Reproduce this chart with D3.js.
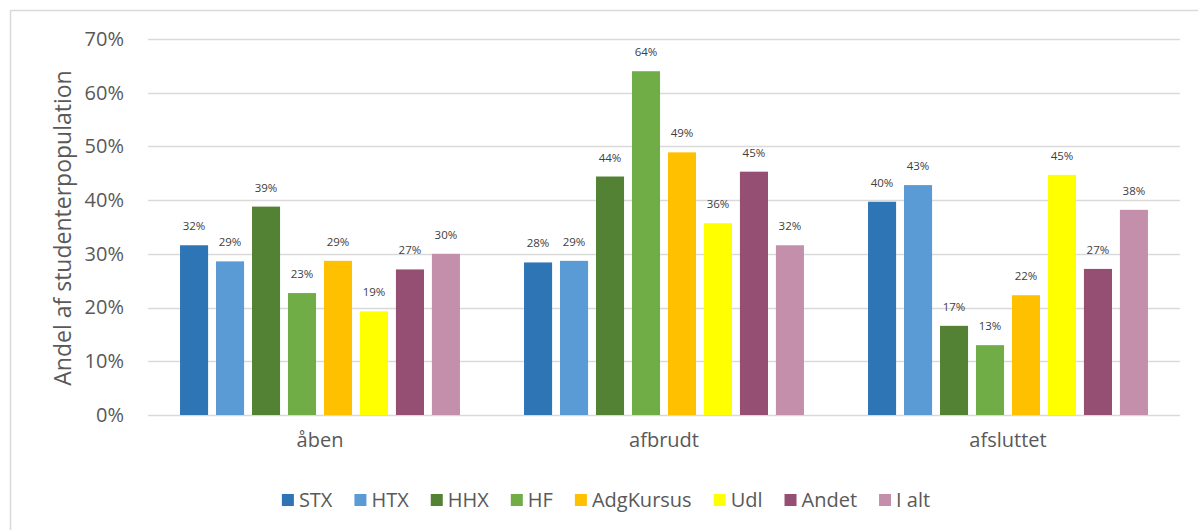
<!DOCTYPE html>
<html>
<head>
<meta charset="utf-8">
<script src="https://cdn.jsdelivr.net/npm/d3@7"></script>
<style>
  body { margin: 0; background: #fff; }
  svg { display: block; font-family: "Open Sans", sans-serif; }
</style>
</head>
<body>
<script>
var swidth = 1198,
    sheight = 530,
    margin = {top: 39, right: 18, bottom: 115, left: 148},
    width = swidth - margin.left - margin.right,
    height = sheight - margin.top - margin.bottom;

// data
var groups = ["åben", "afbrudt", "afsluttet"];
var series = ["STX", "HTX", "HHX", "HF", "AdgKursus", "Udl", "Andet", "I alt"];
var colors = ["#2e75b6", "#5b9bd5", "#548235", "#70ad47", "#ffc000", "#ffff00", "#954f72", "#c48fab"];
var aabenVals    = [0.316, 0.286, 0.388, 0.227, 0.287, 0.193, 0.271, 0.300];
var afbrudtVals  = [0.284, 0.287, 0.444, 0.640, 0.489, 0.357, 0.453, 0.316];
var afsluttetVals = [0.397, 0.428, 0.166, 0.130, 0.223, 0.447, 0.272, 0.382];
var tickVals = [0, 0.1, 0.2, 0.3, 0.4, 0.5, 0.6, 0.7];
var yTitle = "Andel af studenterpopulation";

var values = [aabenVals, afbrudtVals, afsluttetVals];

var svg = d3.select("body").append("svg")
    .attr("width", swidth)
    .attr("height", sheight);

// chart frame (continues past the right/bottom of the picture)
svg.append("rect")
    .attr("x", 10.5).attr("y", 10.5)
    .attr("width", 1400).attr("height", 800)
    .attr("fill", "none")
    .attr("stroke", "#d9d9d9")
    .attr("stroke-width", 1.5);

var g = svg.append("g")
    .attr("transform", "translate(" + margin.left + "," + margin.top + ")");

var x0 = d3.scaleBand()
    .domain(groups)
    .range([0, width]);

var x1 = d3.scaleBand()
    .domain(series)
    .range([0, x0.bandwidth()])
    .paddingInner(0.22)
    .paddingOuter(0.89);

var y = d3.scaleLinear()
    .domain([0, 0.7])
    .range([height, 0]);

var color = d3.scaleOrdinal().domain(series).range(colors);

// gridlines
g.append("g")
  .selectAll("line")
  .data(tickVals)
  .enter().append("line")
    .attr("x1", 0)
    .attr("x2", width)
    .attr("y1", function(d) { return Math.round(y(d)) + 0.5; })
    .attr("y2", function(d) { return Math.round(y(d)) + 0.5; })
    .attr("stroke", "#d9d9d9")
    .attr("stroke-width", 1.3);

// y axis labels
var yAxis = g.append("g")
    .call(d3.axisLeft(y).tickValues(tickVals).tickFormat(d3.format(".0%")).tickSize(0).tickPadding(24));
yAxis.select(".domain").remove();
yAxis.selectAll("text")
    .attr("font-family", "Open Sans")
    .attr("font-size", 20)
    .attr("fill", "#595959");

// x axis labels
var xAxis = g.append("g")
    .attr("transform", "translate(0," + height + ")")
    .call(d3.axisBottom(x0).tickSize(0).tickPadding(18));
xAxis.select(".domain").remove();
xAxis.selectAll("text")
    .attr("font-family", "Open Sans")
    .attr("font-size", 20)
    .attr("fill", "#595959");

// bars
var grp = g.append("g")
  .selectAll("g")
  .data(groups)
  .enter().append("g")
    .attr("transform", function(d) { return "translate(" + x0(d) + ",0)"; });

grp.selectAll("rect")
  .data(function(d, i) { return series.map(function(s, j) { return {key: s, value: values[i][j]}; }); })
  .enter().append("rect")
    .attr("x", function(d) { return x1(d.key); })
    .attr("y", function(d) { return y(d.value); })
    .attr("width", x1.bandwidth())
    .attr("height", function(d) { return height - y(d.value); })
    .attr("fill", function(d) { return color(d.key); });

grp.selectAll("text")
  .data(function(d, i) { return series.map(function(s, j) { return {key: s, value: values[i][j]}; }); })
  .enter().append("text")
    .attr("x", function(d) { return x1(d.key) + x1.bandwidth() / 2; })
    .attr("y", function(d) { return y(d.value) - 15; })
    .attr("text-anchor", "middle")
    .attr("font-size", 11.5)
    .attr("fill", "#404040")
    .text(function(d) { return d3.format(".0%")(d.value); });

// y axis title
svg.append("text")
    .attr("transform", "translate(71,228) rotate(-90)")
    .attr("text-anchor", "middle")
    .attr("font-size", 23)
    .attr("fill", "#595959")
    .text(yTitle);

// legend
var legend = svg.append("g")
    .attr("transform", "translate(0,507)");

var items = legend.selectAll("g")
  .data(series)
  .enter().append("g");

items.append("rect")
    .attr("y", -13)
    .attr("width", 12)
    .attr("height", 12)
    .attr("fill", function(d) { return color(d); });

items.append("text")
    .attr("x", 17)
    .attr("font-size", 20)
    .attr("fill", "#595959")
    .text(function(d) { return d; });

var lx = 0;
items.each(function() {
  var w = d3.select(this).select("text").node().getComputedTextLength();
  d3.select(this).attr("transform", "translate(" + lx + ",0)");
  lx += 17 + w + 22;
});
var legendWidth = lx - 22;
legend.attr("transform", "translate(" + (606 - legendWidth / 2) + ",507)");
</script>
</body>
</html>
